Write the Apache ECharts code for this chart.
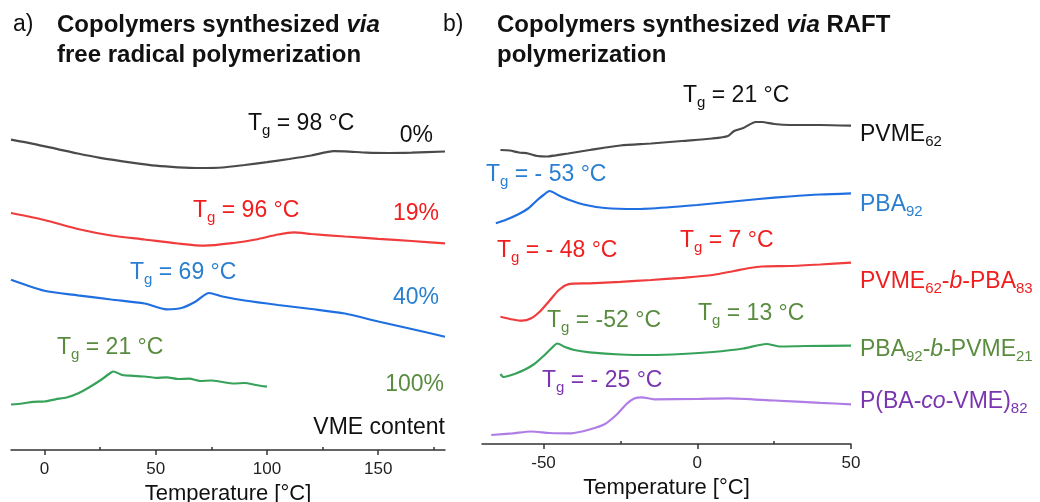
<!DOCTYPE html>
<html><head><meta charset="utf-8">
<script src="https://cdn.jsdelivr.net/npm/echarts@6/dist/echarts.min.js"></script>
<style>html,body{margin:0;padding:0;background:#fff}#c{width:1040px;height:502px}</style>
</head><body><div id="c"></div>
<script>
// ---------- Data (temperature °C, heat flow a.u. with offset) ----------
// Panel a) free radical polymerization
const aT0   = [-15,-5,5,15,25,40,50,60,70,80,90,100,110,120,130,135,145,155,165,180];
const aV0   = [31.03,30.62,30.14,29.65,29.22,28.72,28.43,28.27,28.2,28.25,28.5,28.78,29.1,29.45,29.88,29.87,29.73,29.7,29.74,29.85];
const aT19  = [-15,0,15,30,45,60,72,85,95,105,112,120,135,150,165,180];
const aV19  = [23.7,23.0,22.1,21.45,21.05,20.65,20.43,20.7,21.05,21.55,21.77,21.6,21.35,21.12,20.9,20.67];
const aT40  = [-15,0,15,30,45,55,62,68,74,80,90,105,120,135,150,165,180];
const aV40  = [17.03,15.93,15.47,15.05,14.65,14.07,14.23,14.85,15.7,15.35,14.95,14.5,14.1,13.65,12.85,12.1,11.33];
const aT100 = [-15,-10,-5,0,5,10,15,20,25,30,31,35,40,45,50,55,60,65,70,75,80,85,90,95,100];
const aV100 = [4.55,4.65,4.82,4.85,5.07,5.25,5.65,6.25,6.95,7.75,7.85,7.5,7.42,7.35,7.22,7.27,7.1,7.14,6.9,6.95,6.8,6.65,6.7,6.5,6.33];

// Panel b) RAFT polymerization
const bTpvme = [-64,-61,-58,-55,-52,-49,-46,-42,-35,-25,-15,-5,5,10,12,15,19,21,25,30,40,50];
const bVpvme = [29.4,29.35,29.15,29.05,28.8,28.75,28.87,29.05,29.4,29.85,30.05,30.3,30.55,30.8,31.3,31.6,32.2,32.2,32.0,31.9,31.9,31.83];
const bTpba  = [-65.5,-62,-58,-55,-52,-50,-48,-45,-42,-37,-30,-20,-10,0,10,20,30,40,50];
const bVpba  = [22.07,22.45,23.0,23.55,24.4,24.9,25.3,24.85,24.45,23.95,23.6,23.5,23.65,23.9,24.2,24.5,24.75,24.95,25.07];
const bTab   = [-64,-60,-57,-54,-51,-48,-45,-42,-35,-25,-15,-5,5,12,17,21,30,40,50];
const bVab   = [12.73,12.45,12.33,12.57,13.3,14.35,15.4,15.97,16.07,16.22,16.4,16.62,16.9,17.3,17.6,17.75,17.8,17.95,18.13];
const bTba   = [-64,-63,-61.5,-59,-56,-53,-50,-47.5,-45.5,-43,-40,-35,-25,-15,-5,5,15,22.5,27,35,50];
const bVba   = [7.0,6.7,6.8,7.05,7.45,8.0,8.8,9.55,10.05,9.7,9.4,9.17,8.95,8.9,9.0,9.2,9.55,10.0,9.75,9.8,9.83];
const bTco   = [-67,-60,-54,-48,-41,-35,-30,-26,-23,-20.5,-18,-14,0,10,25,40,50];
const bVco   = [0.9,1.07,1.25,1.1,1.07,1.45,2.0,3.0,4.0,4.55,4.67,4.47,4.5,4.57,4.35,4.12,3.97];

// Tick labels
const aMajorTicks = [0, 50, 100, 150];
const aMinorTicks = [25, 75, 125, 175];
const bMajorTicks = [-50, 0, 50];
const bMinorTicks = [-25, 25];

// ---------- Styling ----------
const FF = '"Liberation Sans", Arial, Helvetica, sans-serif';
const C = {
  blackLine:'#4a4a4a', black:'#111111',
  redLine:'#f03c3c', red:'#f01e1e',
  blueLine:'#1f6fe0', blue:'#2a7fd0',
  greenLine:'#37a259', green:'#5a8c40',
  purpleLine:'#b07de6', purple:'#7a35b0'
};
const zip = (t, v) => t.map((x, i) => [x, v[i]]);

const FS = 23, SUB = 15;
function richStyles(fs, sub) {
  return {
    m:  {fontSize: fs, fontFamily: FF, lineHeight: 28, verticalAlign: 'middle'},
    i:  {fontSize: fs, fontFamily: FF, fontStyle: 'italic', lineHeight: 28, verticalAlign: 'middle'},
    s:  {fontSize: sub, fontFamily: FF, lineHeight: 14, verticalAlign: 'bottom'},
    b:  {fontSize: 24, fontFamily: FF, fontWeight: 'bold', lineHeight: 30, verticalAlign: 'middle'},
    bi: {fontSize: 24, fontFamily: FF, fontWeight: 'bold', fontStyle: 'italic', lineHeight: 30, verticalAlign: 'middle'}
  };
}
function label(text, x, y, color, align, fs) {
  return {
    type: 'text', x: x, y: y, silent: true,
    style: {
      text: text, fill: color, align: align || 'left', verticalAlign: 'middle',
      fontSize: fs || FS, fontFamily: FF, rich: richStyles(fs || FS, SUB)
    }
  };
}
const tg = (rest) => '{m|T}{s|g}{m| = ' + rest + '}';

const graphics = [
  // titles
  label('{m|a)}', 13, 25, '#111'),
  label('{b|Copolymers synthesized }{bi|via}', 57, 25, '#111'),
  label('{b|free radical polymerization}', 57, 55, '#111'),
  label('{m|b)}', 443, 25, '#111'),
  label('{b|Copolymers synthesized }{bi|via}{b| RAFT}', 497, 25, '#111'),
  label('{b|polymerization}', 497, 55, '#111'),
  // panel a labels
  label(tg('98 °C'), 248, 124, C.black),
  label('{m|0%}', 433, 136, C.black, 'right'),
  label(tg('96 °C'), 193, 211, C.red),
  label('{m|19%}', 439, 214, C.red, 'right'),
  label(tg('69 °C'), 130, 273, C.blue),
  label('{m|40%}', 439, 298, C.blue, 'right'),
  label(tg('21 °C'), 57, 348, C.green),
  label('{m|100%}', 444, 385, C.green, 'right'),
  label('{m|VME content}', 445, 428, C.black, 'right'),
  // panel b labels
  label(tg('21 °C'), 683, 96, C.black),
  label('{m|PVME}{s|62}', 860, 135, C.black),
  label(tg('- 53 °C'), 486, 175, C.blue),
  label('{m|PBA}{s|92}', 860, 205, C.blue),
  label(tg('- 48 °C'), 497, 251, C.red),
  label(tg('7 °C'), 680, 241, C.red),
  label('{m|PVME}{s|62}{m|-}{i|b}{m|-PBA}{s|83}', 860, 282, C.red),
  label(tg('-52 °C'), 547, 321, C.green),
  label(tg('13 °C'), 698, 314, C.green),
  label('{m|PBA}{s|92}{m|-}{i|b}{m|-PVME}{s|21}', 860, 350, C.green),
  label(tg('- 25 °C'), 542, 381, C.purple),
  label('{m|P(BA-}{i|co}{m|-VME)}{s|82}', 860, 402, C.purple)
];

function majorAxis(grid, min, max, ticks, gap) {
  return {
    type: 'value', gridIndex: grid, min: min, max: max,
    axisLine: {show: true, onZero: false, lineStyle: {color: '#333', width: 1.5}},
    axisTick: {show: true, inside: false, length: 5, customValues: ticks, lineStyle: {color: '#333', width: 1.5}},
    axisLabel: {show: true, customValues: ticks, margin: 11, fontSize: 17, fontFamily: FF, color: '#222'},
    splitLine: {show: false},
    name: 'Temperature [°C]', nameLocation: 'middle', nameGap: gap,
    nameTextStyle: {fontSize: 22, fontFamily: FF, color: '#111'}
  };
}
function minorAxis(grid, min, max, ticks) {
  return {
    type: 'value', gridIndex: grid, min: min, max: max,
    axisLine: {show: false},
    axisTick: {show: true, length: 3, customValues: ticks, lineStyle: {color: '#333', width: 1.5}},
    axisLabel: {show: false}, splitLine: {show: false}
  };
}
function line(xi, yi, data, color) {
  return {
    type: 'line', xAxisIndex: xi, yAxisIndex: yi, data: data, showSymbol: false, symbol: 'none',
    smooth: 0.25, lineStyle: {color: color, width: 2.2}, silent: true, animation: false
  };
}

const chart = echarts.init(document.getElementById('c'), null, {renderer: 'canvas'});
chart.setOption({
  animation: false,
  backgroundColor: '#fff',
  grid: [
    {left: 11, top: 100, width: 434, height: 350, outerBoundsMode: 'none', containLabel: false},
    {left: 482, top: 100, width: 369, height: 344, outerBoundsMode: 'none', containLabel: false}
  ],
  xAxis: [
    majorAxis(0, -15, 180, aMajorTicks, 31),
    minorAxis(0, -15, 180, aMinorTicks),
    majorAxis(1, -70, 50, bMajorTicks, 33),
    minorAxis(1, -70, 50, bMinorTicks)
  ],
  yAxis: [
    {type: 'value', gridIndex: 0, min: 0, max: 35, show: false},
    {type: 'value', gridIndex: 1, min: 0, max: 34.4, show: false}
  ],
  series: [
    line(0, 0, zip(aT0, aV0), C.blackLine),
    line(0, 0, zip(aT19, aV19), C.redLine),
    line(0, 0, zip(aT40, aV40), C.blueLine),
    line(0, 0, zip(aT100, aV100), C.greenLine),
    line(2, 1, zip(bTpvme, bVpvme), C.blackLine),
    line(2, 1, zip(bTpba, bVpba), C.blueLine),
    line(2, 1, zip(bTab, bVab), C.redLine),
    line(2, 1, zip(bTba, bVba), C.greenLine),
    line(2, 1, zip(bTco, bVco), C.purpleLine)
  ],
  graphic: graphics
});
</script></body></html>
